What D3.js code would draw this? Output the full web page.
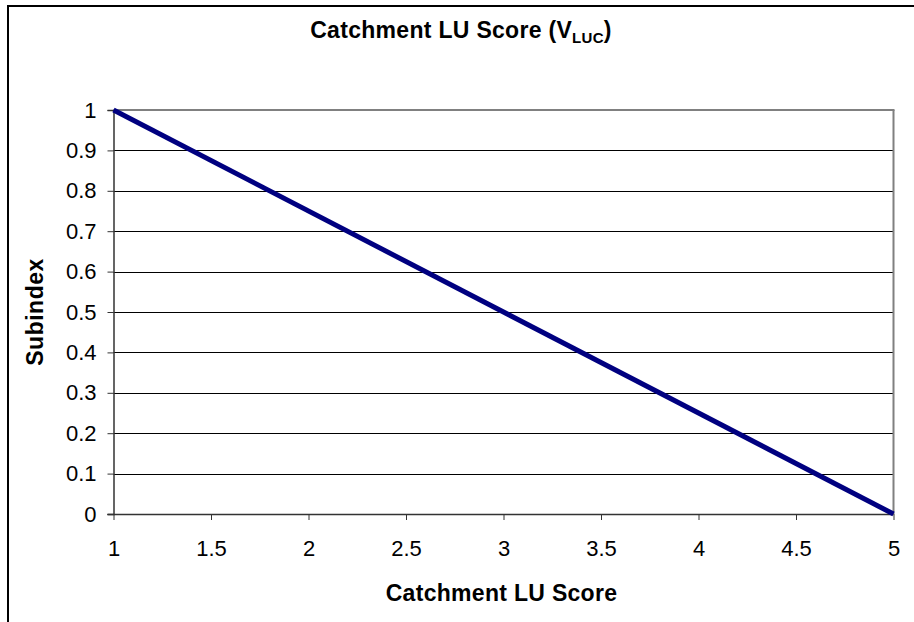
<!DOCTYPE html>
<html><head><meta charset="utf-8">
<script src="https://cdn.jsdelivr.net/npm/d3@7"></script>
<style>body{margin:0;background:#fff;}svg{display:block;font-family:"Liberation Sans",Arial,sans-serif;}</style>
</head><body>
<script>
const xValues = [1, 5];
const yValues = [1, 0];
const xTicks = [1, 1.5, 2, 2.5, 3, 3.5, 4, 4.5, 5];
const yTicks = [0, 0.1, 0.2, 0.3, 0.4, 0.5, 0.6, 0.7, 0.8, 0.9, 1];

const W = 914, H = 622;
const svg = d3.select("body").append("svg").attr("width", W).attr("height", H);
const m = {left: 113.5, right: 893.5, top: 110, bottom: 514};
const x = d3.scaleLinear().domain([1, 5]).range([m.left, m.right]);
const y = d3.scaleLinear().domain([0, 1]).range([m.bottom, m.top]);

// outer chart border (clipped by window)
svg.append("rect").attr("x", 8).attr("y", 6).attr("width", 920).attr("height", 640)
  .attr("fill", "none").attr("stroke", "#000").attr("stroke-width", 2);

// gridlines
svg.append("g").selectAll("line").data(yTicks.filter(d => d > 0)).join("line")
  .attr("x1", m.left).attr("x2", m.right).attr("y1", d => Math.round(y(d)) + 0.5).attr("y2", d => Math.round(y(d)) + 0.5)
  .attr("stroke", "#000").attr("stroke-width", 1);

// plot border top & right gray
svg.append("line").attr("x1", m.left).attr("x2", m.right + 1).attr("y1", m.top).attr("y2", m.top)
  .attr("stroke", "#808080").attr("stroke-width", 2);
svg.append("line").attr("x1", m.right).attr("x2", m.right).attr("y1", m.top).attr("y2", m.bottom)
  .attr("stroke", "#808080").attr("stroke-width", 2);

// axes
const yAxis = d3.axisLeft(y).tickValues(yTicks).tickSize(6).tickPadding(11).tickFormat(d3.format("~g"));
const gy = svg.append("g").attr("transform", `translate(${m.left},0)`).call(yAxis);
const xAxis = d3.axisBottom(x).tickValues(xTicks).tickSize(6).tickPadding(20).tickFormat(d3.format("~g"));
const gx = svg.append("g").attr("transform", `translate(0,${m.bottom})`).call(xAxis);
[gx, gy].forEach(g => {
  g.attr("font-size", 22).attr("font-family", "'Liberation Sans',Arial,sans-serif");
  g.select(".domain").attr("stroke", "#333").attr("stroke-width", 1.5);
  g.selectAll(".tick line").attr("stroke", "#333");
  g.selectAll(".tick text").attr("fill", "#000");
});
gx.select(".domain").attr("d", `M${m.left - 6},0.5H${m.right}`);

// data line
const line = d3.line().x((d, i) => x(xValues[i])).y((d, i) => y(yValues[i]));
svg.append("path").datum(xValues).attr("d", line)
  .attr("fill", "none").attr("stroke", "#000080").attr("stroke-width", 5).attr("stroke-linecap", "butt");

// title
const t = svg.append("text").attr("x", 461).attr("y", 38).attr("text-anchor", "middle")
  .attr("font-size", 23).attr("font-weight", "bold").attr("letter-spacing", 0.3);
t.append("tspan").text("Catchment LU Score (V");
t.append("tspan").attr("font-size", 15).attr("dy", 5).text("LUC");
t.append("tspan").attr("dy", -5).text(")");

// axis titles
svg.append("text").attr("x", (m.left + m.right) / 2 - 2).attr("y", 601).attr("text-anchor", "middle")
  .attr("font-size", 23).attr("font-weight", "bold").attr("letter-spacing", 0.3).text("Catchment LU Score");
svg.append("text").attr("transform", `translate(43,${(m.top + m.bottom) / 2}) rotate(-90)`)
  .attr("text-anchor", "middle").attr("font-size", 23).attr("font-weight", "bold").attr("letter-spacing", 0.5).text("Subindex");
</script>
</body></html>
